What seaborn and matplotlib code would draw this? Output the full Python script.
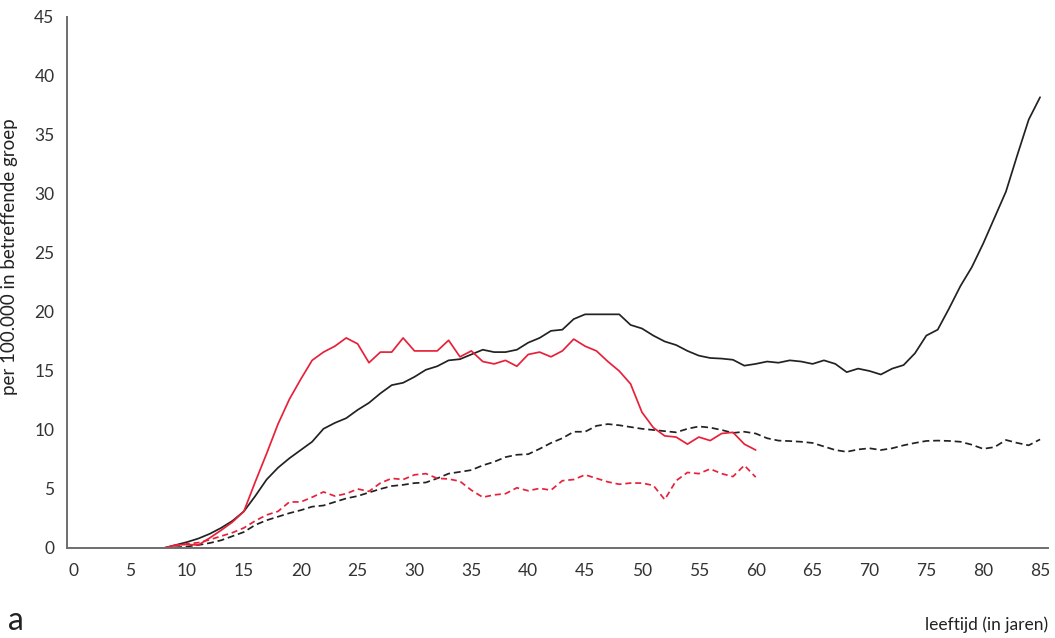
import numpy as np
import pandas as pd
import seaborn as sns
import matplotlib.pyplot as plt

# leeftijd in jaren
age_long = list(range(8, 86))
age_short = list(range(8, 61))

black_solid = [0, 0.25, 0.5, 0.8, 1.2, 1.7, 2.3, 3.1, 4.4, 5.8,
               6.8, 7.6, 8.3, 9.0, 10.1, 10.6, 11.0, 11.7, 12.3, 13.1,
               13.8, 14.0, 14.5, 15.1, 15.4, 15.9, 16.0, 16.4, 16.8, 16.6,
               16.6, 16.8, 17.4, 17.8, 18.4, 18.5, 19.4, 19.8, 19.8, 19.8,
               19.8, 18.9, 18.6, 18.0, 17.5, 17.2, 16.7, 16.3, 16.1, 16.05,
               15.95, 15.45, 15.6, 15.8, 15.7, 15.9, 15.8, 15.6, 15.9, 15.6,
               14.9, 15.2, 15.0, 14.7, 15.2, 15.5, 16.5, 18.0, 18.5, 20.3,
               22.2, 23.8, 25.8, 28.0, 30.2, 33.3, 36.3, 38.2]

black_dashed = [0, 0.05, 0.12, 0.25, 0.42, 0.65, 1.0, 1.35, 1.95, 2.35,
                2.65, 2.95, 3.2, 3.5, 3.6, 3.9, 4.2, 4.4, 4.7, 5.0,
                5.25, 5.35, 5.5, 5.55, 5.9, 6.3, 6.45, 6.6, 7.0, 7.3,
                7.7, 7.9, 7.95, 8.4, 8.9, 9.3, 9.85, 9.85, 10.35, 10.5,
                10.4, 10.25, 10.1, 10.0, 9.9, 9.8, 10.1, 10.3, 10.2, 10.0,
                9.75, 9.85, 9.7, 9.3, 9.1, 9.06, 9.0, 8.9, 8.6, 8.3,
                8.15, 8.35, 8.45, 8.3, 8.45, 8.7, 8.9, 9.07, 9.1, 9.07,
                9.0, 8.75, 8.4, 8.55, 9.15, 8.9, 8.7, 9.2]

red_solid = [0, 0.25, 0.3, 0.25, 0.85, 1.5, 2.2, 3.1, 5.6, 8.0,
             10.5, 12.6, 14.3, 15.9, 16.6, 17.1, 17.8, 17.3, 15.7, 16.6,
             16.6, 17.8, 16.7, 16.7, 16.7, 17.6, 16.2, 16.7, 15.8, 15.6,
             15.9, 15.4, 16.4, 16.6, 16.2, 16.7, 17.7, 17.1, 16.7, 15.8,
             15.0, 13.9, 11.5, 10.2, 9.5, 9.4, 8.8, 9.4, 9.1, 9.7,
             9.8, 8.8, 8.3]

red_dashed = [0, 0.2, 0.35, 0.45, 0.7, 1.0, 1.3, 1.7, 2.3, 2.8,
              3.1, 3.9, 3.9, 4.3, 4.75, 4.4, 4.6, 5.0, 4.8, 5.5,
              5.9, 5.8, 6.2, 6.3, 5.9, 5.85, 5.65, 4.9, 4.3, 4.5,
              4.6, 5.1, 4.85, 5.05, 4.9, 5.7, 5.8, 6.2, 5.9, 5.6,
              5.4, 5.5, 5.5, 5.3, 4.1, 5.7, 6.4, 6.3, 6.7, 6.3,
              6.05, 7.0, 6.0]

x_ticks = list(range(0, 90, 5))
y_ticks = list(range(0, 50, 5))

sns.set_style("white")
plt.rcParams['font.family'] = ['Lato', 'DejaVu Sans']

black = "#222222"
red = "#e8213a"
grey = "#6e6e6e"

fig = plt.figure(figsize=(10.55, 6.38), dpi=100)
ax = fig.add_axes([0.0635, 0.1411, 0.9299, 0.8323])

sns.lineplot(x=age_long, y=black_solid, ax=ax, color=black, linewidth=1.25)
sns.lineplot(x=age_long, y=black_dashed, ax=ax, color=black, linewidth=1.25,
             linestyle=(0, (4, 2.2)))
sns.lineplot(x=age_short, y=red_solid, ax=ax, color=red, linewidth=1.25)
sns.lineplot(x=age_short, y=red_dashed, ax=ax, color=red, linewidth=1.25,
             linestyle=(0, (3.5, 2.2)))

ax.set_xlim(-0.55, 85.7)
ax.set_ylim(0, 45)
ax.set_xticks(x_ticks)
ax.set_yticks(y_ticks)
ax.set_xticklabels([str(t) for t in x_ticks])
ax.set_yticklabels([str(t) for t in y_ticks])

for s in ["top", "right"]:
    ax.spines[s].set_visible(False)
for s in ["left", "bottom"]:
    ax.spines[s].set_color(grey)
    ax.spines[s].set_linewidth(1.4)

ax.tick_params(axis="both", direction="out", length=6, width=1.2, color=grey,
               labelsize=12.5, labelcolor="#333333")
ax.tick_params(axis="x", pad=5)
ax.tick_params(axis="y", pad=3)
ax.set_xlabel("")
ax.set_ylabel("per 100.000 in betreffende groep", fontsize=13.5, color="#222222")
ax.yaxis.set_label_coords(-0.05, 0.548)

fig.text(0.008, 0.012, "a", fontsize=23, color="#222222", ha="left", va="baseline")
fig.text(0.9934, 0.012, "leeftijd (in jaren)", fontsize=12.5, color="#222222",
         ha="right", va="baseline")

plt.savefig("out.png", dpi=100)
